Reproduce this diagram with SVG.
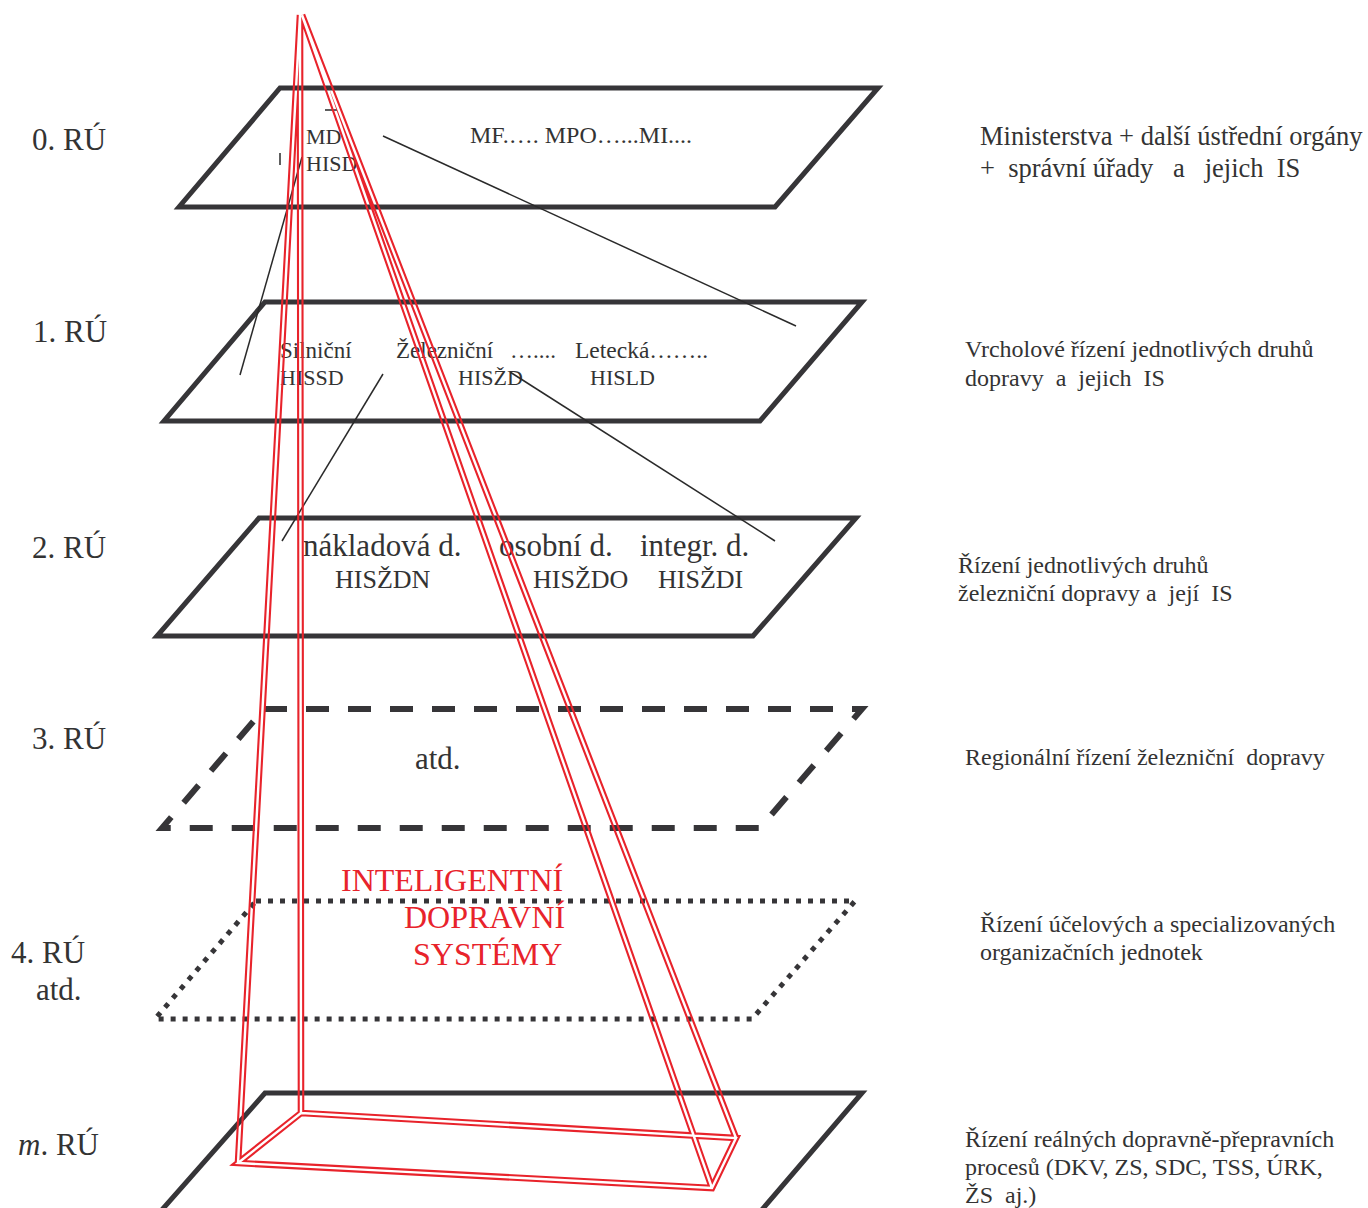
<svg xmlns="http://www.w3.org/2000/svg" width="1368" height="1208" viewBox="0 0 1368 1208">
<style>
  .pl{fill:none;stroke:#363538;stroke-width:5;stroke-linejoin:miter}
  .dash{stroke-dasharray:23 19;stroke-width:6}
  .dot{stroke-dasharray:5 7;stroke-width:5}
  .thin{fill:none;stroke:#2a2a2a;stroke-width:1.5}
  .t{font-family:"Liberation Serif","Times New Roman",serif;fill:#333333}
  .red{font-family:"Liberation Serif","Times New Roman",serif;fill:#e8232b;font-size:32px}
  .rd{fill:none;stroke:#e8232b;stroke-width:6.6;stroke-linejoin:miter}
  .rw{fill:none;stroke:#000;stroke-width:2.4;stroke-linejoin:miter}
</style>
<defs>
  <path id="pyr" d="M300,15 L238,1163 M300,15 L301,1113 M302,15 L736,1138 M302,15 L712,1188 M301,1113 L736,1138 L712,1188 L238,1163 Z"/>
  <mask id="hollow" maskUnits="userSpaceOnUse" x="0" y="0" width="1368" height="1208">
    <rect x="0" y="0" width="1368" height="1208" fill="#fff"/>
    <use href="#pyr" class="rw"/>
  </mask>
</defs>
<rect width="1368" height="1208" fill="#fff"/>

<g id="level-0">
  <polygon class="pl" points="280,88 878,88 775,207 179,207"/>
  <text class="t" x="306" y="144" font-size="22">MD</text>
  <text class="t" x="306" y="171" font-size="22">HISD</text>
  <text class="t" x="470" y="143" font-size="24">MF.…. MPO…...MI....</text>
</g>
<g id="level-1">
  <polygon class="pl" points="265,302 862,302 760,421 164,421"/>
  <text class="t" x="280" y="358" font-size="23">Silniční</text>
  <text class="t" x="396" y="358" font-size="23">Železniční</text>
  <text class="t" x="510" y="358" font-size="23">…....</text>
  <text class="t" x="575" y="358" font-size="23.5">Letecká……..</text>
  <text class="t" x="280" y="385" font-size="22">HISSD</text>
  <text class="t" x="458" y="385" font-size="22">HISŽD</text>
  <text class="t" x="590" y="385" font-size="22">HISLD</text>
</g>
<g id="level-2">
  <polygon class="pl" points="259,518 856,518 753,636 157,636"/>
  <text class="t" x="303" y="556" font-size="31">nákladová d.</text>
  <text class="t" x="499" y="556" font-size="31">osobní d.</text>
  <text class="t" x="640" y="556" font-size="31">integr. d.</text>
  <text class="t" x="335" y="588" font-size="26">HISŽDN</text>
  <text class="t" x="533" y="588" font-size="26">HISŽDO</text>
  <text class="t" x="658" y="588" font-size="26">HISŽDI</text>
</g>
<g id="level-3">
  <polygon class="pl dash" points="264,709 862,709 760,828 162,828"/>
  <text class="t" x="415" y="769" font-size="31">atd.</text>
</g>
<g id="level-4">
  <polygon class="pl dot" points="256,901 855,901 752,1019 155,1019"/>
</g>
<g id="level-m">
  <polyline class="pl" points="160,1212 265,1093 862,1093 760,1212"/>
</g>

<g id="connectors">
  <line class="thin" x1="383" y1="136" x2="796" y2="326"/>
  <line class="thin" x1="302" y1="157" x2="240" y2="375"/>
  <line class="thin" x1="383" y1="374" x2="282" y2="541"/>
  <line class="thin" x1="510" y1="372" x2="775" y2="541"/>
  <line class="thin" x1="280" y1="153" x2="280" y2="165"/>
  <line class="thin" x1="325" y1="110" x2="337" y2="110"/>
</g>

<g id="pyramid" mask="url(#hollow)">
  <use href="#pyr" class="rd"/>
</g>
<g id="its-label">
  <text class="red" x="341" y="891">INTELIGENTNÍ</text>
  <text class="red" x="404" y="928">DOPRAVNÍ</text>
  <text class="red" x="413" y="965">SYSTÉMY</text>
</g>

<g id="level-labels">
  <text class="t" x="32" y="150" font-size="31">0. RÚ</text>
  <text class="t" x="33" y="342" font-size="31">1. RÚ</text>
  <text class="t" x="32" y="558" font-size="31">2. RÚ</text>
  <text class="t" x="32" y="749" font-size="31">3. RÚ</text>
  <text class="t" x="11" y="963" font-size="31">4. RÚ</text>
  <text class="t" x="36" y="1000" font-size="31">atd.</text>
  <text class="t" x="18" y="1155" font-size="31"><tspan font-style="italic">m</tspan>. RÚ</text>
</g>

<g id="descriptions">
  <text class="t" x="980" y="145" font-size="26.5">Ministerstva + další ústřední orgány</text>
  <text class="t" x="980" y="177" font-size="26.5" xml:space="preserve">+  správní úřady   a   jejich  IS</text>
  <text class="t" x="965" y="357" font-size="24">Vrcholové řízení jednotlivých druhů</text>
  <text class="t" x="965" y="386" font-size="24" xml:space="preserve">dopravy  a  jejich  IS</text>
  <text class="t" x="958" y="573" font-size="24">Řízení jednotlivých druhů</text>
  <text class="t" x="958" y="601" font-size="24" xml:space="preserve">železniční dopravy a  její  IS</text>
  <text class="t" x="965" y="765" font-size="24" xml:space="preserve">Regionální řízení železniční  dopravy</text>
  <text class="t" x="980" y="932" font-size="24">Řízení účelových a specializovaných</text>
  <text class="t" x="980" y="960" font-size="24">organizačních jednotek</text>
  <text class="t" x="965" y="1147" font-size="24">Řízení reálných dopravně-přepravních</text>
  <text class="t" x="965" y="1175" font-size="24">procesů (DKV, ZS, SDC, TSS, ÚRK,</text>
  <text class="t" x="965" y="1203" font-size="24" xml:space="preserve">ŽS  aj.)</text>
</g>
</svg>
